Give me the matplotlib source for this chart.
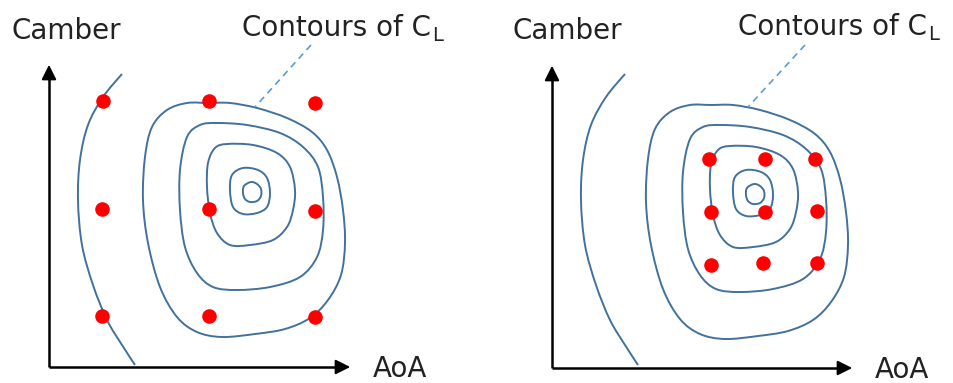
import numpy as np
import matplotlib.pyplot as plt
from matplotlib.path import Path
from matplotlib.patches import PathPatch

# diagram drawn in pixel units of the 954x383 picture (y grows downward)
# contour shapes of the left panel, right panel reuses them shifted
contour_1 = [(208, 103), (230, 103), (257, 108), (287, 118), (312, 132), (327, 150),
             (337, 177), (343, 210), (345, 243), (341, 275), (328, 300), (310, 318),
             (285, 329), (255, 334), (222, 337), (197, 332), (177, 317), (160, 287),
             (148, 243), (143, 200), (145, 157), (152, 127), (167, 110), (187, 103)]
contour_2 = [(217, 123), (247, 125), (280, 133), (303, 147), (318, 167), (323, 197),
             (323, 230), (317, 257), (300, 277), (270, 287), (237, 290), (213, 287),
             (197, 273), (185, 247), (180, 210), (180, 170), (187, 137), (200, 125)]
contour_3 = [(227, 144), (253, 145), (277, 153), (290, 167), (295, 190), (293, 210),
             (287, 227), (273, 240), (250, 245), (230, 245), (217, 233), (210, 213),
             (207, 187), (208, 163), (215, 148)]
contour_4 = [(243, 168), (258, 170), (267, 178), (270, 193), (267, 207), (257, 213),
             (243, 214), (233, 207), (230, 190), (232, 175)]
contour_5 = [(251, 182), (257, 184), (261, 189), (261, 196), (257, 201), (250, 202),
             (245, 199), (243, 193), (244, 186)]
open_curve = [(122, 74), (103, 97), (88, 125), (80, 160), (78, 200), (82, 245),
              (93, 285), (107, 320), (122, 345), (135, 365)]

panel_shift = [(0, 0), (503, 2)]

# sample points (red dots)
dots_left_x = [103, 209, 315, 102, 209, 315, 102, 209, 315]
dots_left_y = [101, 101, 103, 209, 209, 211, 316, 316, 317]
dots_right_x = [709, 765, 815, 711, 765, 817, 711, 763, 817]
dots_right_y = [159, 159, 159, 212, 212, 211, 265, 263, 263]

line_col = '#41719c'


def smooth_path(pts, closed):
    # catmull-rom through the points, handed to matplotlib as cubic beziers
    p = np.array(pts, dtype=float)
    n = len(p)
    verts = [p[0]]
    codes = [Path.MOVETO]
    segs = n if closed else n - 1
    for i in range(segs):
        if closed:
            p0, p1, p2, p3 = p[(i - 1) % n], p[i], p[(i + 1) % n], p[(i + 2) % n]
        else:
            p0 = p[max(i - 1, 0)]
            p1, p2 = p[i], p[i + 1]
            p3 = p[min(i + 2, n - 1)]
        verts += [p1 + (p2 - p0) / 6, p2 - (p3 - p1) / 6, p2]
        codes += [Path.CURVE4] * 3
    return Path(verts, codes)


fig = plt.figure(figsize=(9.54, 3.83), dpi=100)
ax = fig.add_axes([0, 0, 1, 1])
ax.set_xlim(0, 954)
ax.set_ylim(383, 0)
ax.axis('off')

for dx, dy in panel_shift:
    for c in [contour_1, contour_2, contour_3, contour_4, contour_5]:
        pts = [(x + dx, y + dy) for x, y in c]
        ax.add_patch(PathPatch(smooth_path(pts, True), fill=False, ec=line_col, lw=1.4))
    pts = [(x + dx, y) for x, y in open_curve]
    ax.add_patch(PathPatch(smooth_path(pts, False), fill=False, ec=line_col, lw=1.4))

ax.scatter(dots_left_x, dots_left_y, s=110, color='#ff0000', zorder=5, lw=0)
ax.scatter(dots_right_x, dots_right_y, s=110, color='#ff0000', zorder=5, lw=0)

# axes arrows
for ox, oy, tx, ty in [(49, 367, 353, 62), (552, 368, 855, 63)]:
    ax.plot([ox, ox], [oy, ty + 12], color='black', lw=1.8, solid_capstyle='butt')
    ax.plot([ox, tx - 12], [oy, oy], color='black', lw=1.8, solid_capstyle='butt')
    ax.annotate('', xy=(ox, ty), xytext=(ox, ty + 14),
                arrowprops=dict(arrowstyle='-|>', color='black', lw=1.5, mutation_scale=22))
    ax.annotate('', xy=(tx, oy), xytext=(tx - 14, oy),
                arrowprops=dict(arrowstyle='-|>', color='black', lw=1.5, mutation_scale=22))

# leader lines to contour label
ax.plot([311, 255], [45, 107], color='#5b9bd5', lw=1.2, ls=(0, (4, 3)))
ax.plot([805, 748], [45, 107], color='#5b9bd5', lw=1.2, ls=(0, (4, 3)))

txt = dict(color='#222222', fontsize=20, va='center')
ax.text(12, 31, 'Camber', ha='left', **txt)
ax.text(513, 31, 'Camber', ha='left', **txt)
ax.text(373, 369, 'AoA', ha='left', **txt)
ax.text(875, 370, 'AoA', ha='left', **txt)
for x0, y0 in [(242, 28), (738, 27)]:
    t = ax.text(x0, y0, 'Contours of C', ha='left', **txt)
    ax.annotate('L', xy=(1, 0), xycoords=t, xytext=(1, -2), textcoords='offset points',
                ha='left', va='bottom', color='#222222', fontsize=14)

fig.savefig('out.png', dpi=100)
